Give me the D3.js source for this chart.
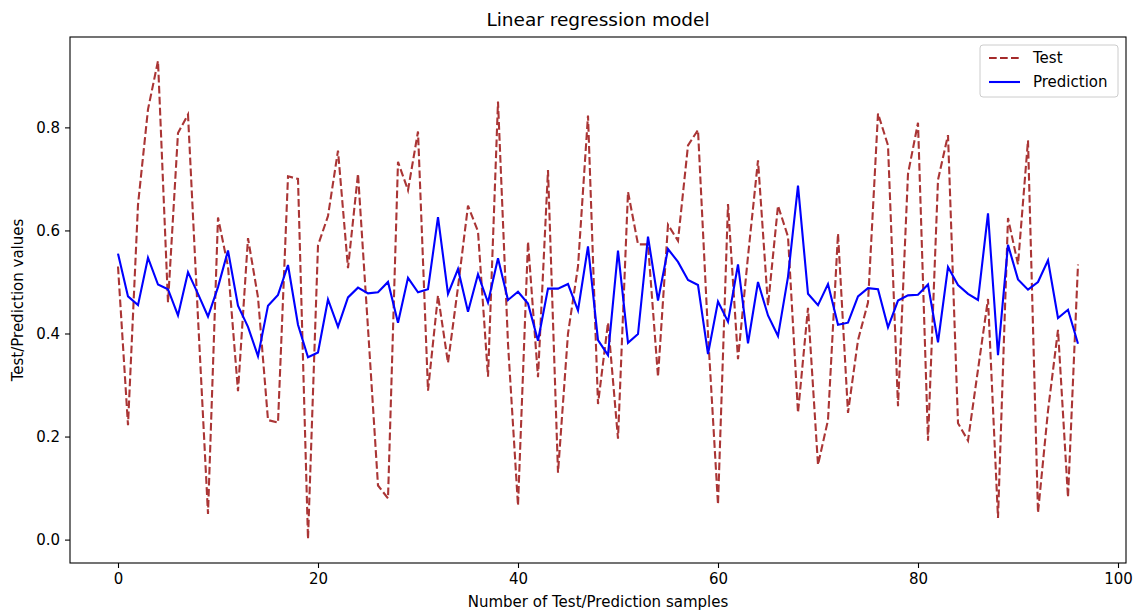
<!DOCTYPE html>
<html>
<head>
<meta charset="utf-8">
<script src="https://cdn.jsdelivr.net/npm/d3@7"></script>
<style>
  html, body { margin: 0; padding: 0; background: #fff; }
  svg { display: block; font-family: "DejaVu Sans", sans-serif; }
</style>
</head>
<body>
<svg id="chart" width="1137" height="610"></svg>
<script>
const testValues = [
  0.53, 0.222, 0.65, 0.835, 0.929, 0.46, 0.789, 0.825, 0.43, 0.05,
  0.625, 0.53, 0.288, 0.585, 0.47, 0.232, 0.227, 0.705, 0.70, 0.001,
  0.571, 0.628, 0.755, 0.527, 0.71, 0.41, 0.105, 0.08, 0.733, 0.678,
  0.792, 0.289, 0.474, 0.343, 0.49, 0.648, 0.598, 0.316, 0.85, 0.38,
  0.066, 0.578, 0.315, 0.717, 0.13, 0.40, 0.53, 0.823, 0.263, 0.421,
  0.196, 0.675, 0.573, 0.573, 0.316, 0.611, 0.58, 0.765, 0.795, 0.40,
  0.068, 0.651, 0.35, 0.55, 0.736, 0.454, 0.648, 0.588, 0.246, 0.45,
  0.145, 0.232, 0.594, 0.246, 0.387, 0.46, 0.827, 0.765, 0.259, 0.71,
  0.809, 0.192, 0.698, 0.785, 0.226, 0.192, 0.33, 0.467, 0.042, 0.624,
  0.534, 0.775, 0.052, 0.25, 0.407, 0.082, 0.534
];
const predValues = [
  0.555, 0.472, 0.455, 0.547, 0.495, 0.486, 0.435, 0.519, 0.477, 0.433,
  0.49, 0.561, 0.454, 0.413, 0.356, 0.454, 0.475, 0.533, 0.417, 0.354,
  0.363, 0.466, 0.413, 0.47, 0.489, 0.478, 0.48, 0.5, 0.421, 0.508,
  0.48, 0.486, 0.626, 0.477, 0.525, 0.442, 0.515, 0.46, 0.546, 0.465,
  0.481, 0.458, 0.386, 0.487, 0.487, 0.496, 0.445, 0.569, 0.387, 0.358,
  0.561, 0.382, 0.399, 0.588, 0.464, 0.564, 0.539, 0.504, 0.494, 0.36,
  0.462, 0.423, 0.534, 0.381, 0.50, 0.435, 0.395, 0.51, 0.687, 0.477,
  0.455, 0.496, 0.417, 0.421, 0.472, 0.488, 0.486, 0.412, 0.464, 0.474,
  0.475, 0.495, 0.383, 0.529, 0.494, 0.477, 0.465, 0.633, 0.358, 0.572,
  0.505, 0.485, 0.50, 0.542, 0.43, 0.446, 0.38
];
const xTicks = [0, 20, 40, 60, 80, 100];
const yTicks = [0.0, 0.2, 0.4, 0.6, 0.8];
const seriesNames = ["Test", "Prediction"];

const svg = d3.select("#chart");
const L = 70, R = 1126, T = 37, B = 563;

const n = testValues.length;
const xMin = 0, xMax = n - 1;
const xPad = (xMax - xMin) * 0.05;
const allVals = testValues.concat(predValues);
const yLo = d3.min(allVals), yHi = d3.max(allVals);
const yPad = (yHi - yLo) * 0.05;

const x = d3.scaleLinear().domain([xMin - xPad, xMax + xPad]).range([L, R]);
const y = d3.scaleLinear().domain([yLo - yPad, yHi + yPad]).range([B, T]);

// Lines
const line = d3.line().x((d, i) => x(i)).y(d => y(d));
const g = svg.append("g");
g.append("path").datum(testValues).attr("d", line)
  .attr("fill", "none").attr("stroke", "#a52a2a").attr("stroke-width", 2.1)
  .attr("stroke-dasharray", "7.7,3.3").attr("stroke-opacity", 0.95);
g.append("path").datum(predValues).attr("d", line)
  .attr("fill", "none").attr("stroke", "#0000ff").attr("stroke-width", 2.1)
  .attr("stroke-linejoin", "miter");

// Axes
const xAxis = d3.axisBottom(x).tickValues(xTicks).tickFormat(d3.format("d")).tickSizeOuter(0).tickSize(5).tickPadding(5);
const yAxis = d3.axisLeft(y).tickValues(yTicks).tickFormat(d3.format(".1f")).tickSizeOuter(0).tickSize(5).tickPadding(5);
const gx = svg.append("g").attr("transform", `translate(0,${B})`).call(xAxis);
const gy = svg.append("g").attr("transform", `translate(${L},0)`).call(yAxis);
[gx, gy].forEach(a => {
  a.select(".domain").remove();
  a.selectAll("text").attr("font-size", 15).attr("font-family", "DejaVu Sans").attr("fill", "#000");
  a.selectAll("line").attr("stroke", "#000").attr("stroke-width", 1.1);
});

// Frame
svg.append("rect").attr("x", L).attr("y", T).attr("width", R - L).attr("height", B - T)
  .attr("fill", "none").attr("stroke", "#000").attr("stroke-width", 1.1);

// Title and labels
svg.append("text").attr("x", (L + R) / 2).attr("y", 26).attr("text-anchor", "middle")
  .attr("font-size", 18.5).text("Linear regression model");
svg.append("text").attr("x", (L + R) / 2).attr("y", 607).attr("text-anchor", "middle")
  .attr("font-size", 15).text("Number of Test/Prediction samples");
svg.append("text").attr("transform", `translate(23,${(T + B) / 2}) rotate(-90)`).attr("text-anchor", "middle")
  .attr("font-size", 15).text("Test/Prediction values");

// Legend
const lg = svg.append("g");
lg.append("rect").attr("x", 980).attr("y", 45).attr("width", 138).attr("height", 52)
  .attr("rx", 3).attr("fill", "#fff").attr("fill-opacity", 0.8).attr("stroke", "#cccccc").attr("stroke-width", 1);
const legendItems = [
  { name: seriesNames[0], color: "#a52a2a", dash: "7.7,3.3" },
  { name: seriesNames[1], color: "#0000ff", dash: null }
];
legendItems.forEach((it, k) => {
  const yy = 58 + k * 24;
  const ln = lg.append("line").attr("x1", 989).attr("x2", 1020).attr("y1", yy).attr("y2", yy)
    .attr("stroke", it.color).attr("stroke-width", 2.1);
  if (it.dash) ln.attr("stroke-dasharray", it.dash);
  lg.append("text").attr("x", 1033).attr("y", yy + 5.3).attr("font-size", 15).text(it.name);
});
</script>
</body>
</html>
